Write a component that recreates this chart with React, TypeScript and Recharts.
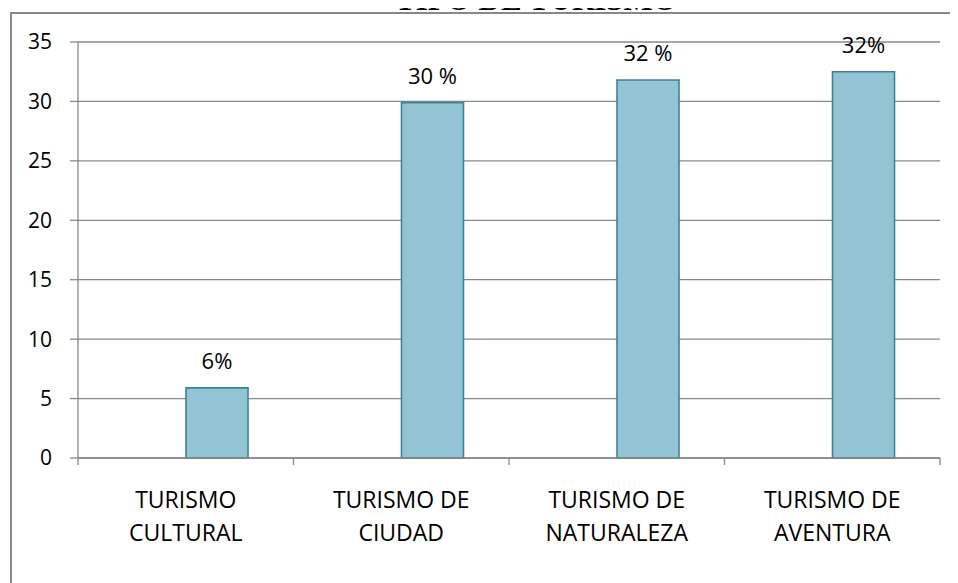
import React from "react";
import { BarChart, Bar, XAxis, YAxis, CartesianGrid, LabelList } from "recharts";

const title = "TIPO DE TURISMO";
const categories = [
  "TURISMO\nCULTURAL",
  "TURISMO DE\nCIUDAD",
  "TURISMO DE\nNATURALEZA",
  "TURISMO DE\nAVENTURA",
];
const hiddenSeries = [null, null, null, null];
const values = [5.9, 29.9, 31.8, 32.5];
const valueLabels = ["6%", "30 %", "32 %", "32%"];
const yTicks = [0, 5, 10, 15, 20, 25, 30, 35];

const data = categories.map((c, i) => ({
  category: c,
  empty: hiddenSeries[i],
  value: values[i],
  label: valueLabels[i],
}));

const FONT = "'Open Sans', sans-serif";
const GRAY = "#888888";

function CategoryTick(props: any) {
  const { x, y, payload, index, visibleTicksCount, width } = props;
  const lines = String(payload.value).split("\n");
  let half = payload && typeof payload.offset === "number" && payload.offset > 0 ? payload.offset : NaN;
  if (!(half > 0) && width && visibleTicksCount) half = width / visibleTicksCount / 2;
  const isLast = index === visibleTicksCount - 1;
  return (
    <g>
      {half > 0 && (
        <line x1={x - half} x2={x - half} y1={y} y2={y + 7} stroke={GRAY} strokeWidth={1.3} />
      )}
      {half > 0 && isLast && (
        <line x1={x + half} x2={x + half} y1={y} y2={y + 7} stroke={GRAY} strokeWidth={1.3} />
      )}
      {lines.map((l: string, i: number) => (
        <text
          key={i}
          x={x}
          y={y + 50 + i * 33}
          textAnchor="middle"
          fontFamily={FONT}
          fontSize={23}
          fill="#000"
        >
          {l}
        </text>
      ))}
    </g>
  );
}

export default function App() {
  return (
    <div
      style={{
        position: "relative",
        width: 958,
        height: 583,
        marginLeft: -8,
        marginTop: -8,
        overflow: "hidden",
        background: "#fff",
      }}
    >
      <div style={{ position: "absolute", left: 0, top: 0 }}>
        <BarChart
          width={958}
          height={583}
          data={data}
          margin={{ top: 42, right: 18, left: 0, bottom: 124 }}
          barGap={0}
        >
          <CartesianGrid
            xAxisId="cat"
            vertical={false}
            stroke={GRAY}
            strokeWidth={1.3}
          />
          <XAxis
            xAxisId="cat"
            dataKey="category"
            height={1}
            axisLine={{ stroke: GRAY, strokeWidth: 1.3 }}
            tickLine={false}
            tickSize={0}
            tickMargin={0}
            interval={0}
            tick={<CategoryTick />}
          />
          <YAxis
            width={78}
            domain={[0, 35]}
            ticks={yTicks}
            interval={0}
            axisLine={{ stroke: GRAY, strokeWidth: 1.3 }}
            tickLine={{ stroke: GRAY, strokeWidth: 1.3 }}
            tickSize={8}
            tickMargin={18}
            tick={{ fill: "#000", fontSize: 21, fontFamily: FONT }}
          />
          <Bar
            xAxisId="cat"
            dataKey="empty"
            barSize={62}
            fill="none"
            isAnimationActive={false}
          />
          <Bar
            xAxisId="cat"
            dataKey="value"
            barSize={62}
            fill="#93C4D4"
            stroke="#3B8398"
            strokeWidth={1.6}
            isAnimationActive={false}
          >
            <LabelList
              dataKey="label"
              position="top"
              offset={19}
              fill="#000"
              fontSize={22}
              fontFamily={FONT}
            />
          </Bar>
        </BarChart>
      </div>
      <svg
        width={958}
        height={583}
        style={{ position: "absolute", left: 0, top: 0, pointerEvents: "none" }}
      >
        <rect x={11} y={13} width={1000} height={1000} fill="none" stroke={GRAY} strokeWidth={2} />
        <text
          x={536}
          y={10}
          textAnchor="middle"
          fontFamily="Liberation Serif"
          fontWeight="bold"
          fontSize={31}
          fill="#000"
        >
          {title}
        </text>
      </svg>
    </div>
  );
}
